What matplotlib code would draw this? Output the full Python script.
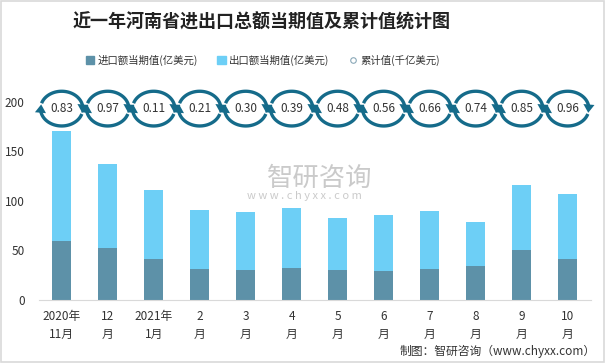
import numpy as np
import matplotlib.pyplot as plt
from matplotlib.patches import Rectangle
from matplotlib.lines import Line2D

plt.rcParams['font.family'] = ['Noto Sans CJK SC', 'DejaVu Sans']

# data
months = ['2020年\n11月', '12\n月', '2021年\n1月', '2\n月', '3\n月', '4\n月',
          '5\n月', '6\n月', '7\n月', '8\n月', '9\n月', '10\n月']
import_vals = [60, 52, 41.5, 31.5, 30.5, 32.5, 30.5, 29.5, 31.5, 34.5, 50.5, 41.5]
total_vals = [170, 137, 111, 91, 89, 93, 83, 86, 90, 79, 116, 107]
export_vals = [t - i for t, i in zip(total_vals, import_vals)]
cum_vals = ['0.83', '0.97', '0.11', '0.21', '0.30', '0.39', '0.48', '0.56', '0.66', '0.74', '0.85', '0.96']

dark = '#5d91a8'
light = '#6dcff6'
arrow_col = '#156b8a'

fig = plt.figure(figsize=(6.06, 3.63), dpi=100)
ax = fig.add_axes([38.7 / 606, 63 / 363, 552 / 606, 237 / 363])

x = np.arange(len(months))
ax.bar(x, import_vals, width=0.41, color=dark, zorder=2)
ax.bar(x, export_vals, width=0.41, bottom=import_vals, color=light, zorder=2)

ax.set_xlim(-0.5, len(months) - 0.5)
ax.set_ylim(0, 239)
ax.set_yticks([0, 50, 100, 150, 200])
ax.set_xticks(x)
ax.set_xticklabels(months, fontsize=8.5, color='#333333', linespacing=1.5)
ax.tick_params(axis='both', length=0, labelsize=8.5, colors='#333333')
ax.tick_params(axis='y', pad=10)
ax.tick_params(axis='x', pad=7)
for s in ['top', 'right', 'left']:
    ax.spines[s].set_visible(False)
ax.spines['bottom'].set_color('#d9d9d9')

# circular arrow icons with cumulative values
icon_y = 193
rx, ry = 0.46, 17.5


def ell(i, deg):
    t = np.radians(deg)
    return i + rx * np.cos(t), icon_y + ry * np.sin(t)


head = dict(arrowstyle='-|>,head_length=0.6,head_width=0.4', lw=0, color=arrow_col,
            shrinkA=0, shrinkB=0, mutation_scale=10)
for i, v in enumerate(cum_vals):
    for a0, a1, tip in [(162, 4, -14), (342, 184, 166)]:
        t = np.linspace(a0, a1, 40)
        px, py = ell(i, t)
        ax.plot(px, py, color=arrow_col, lw=2.4, solid_capstyle='butt', clip_on=False, zorder=3)
        ax.annotate('', xy=ell(i, tip), xytext=ell(i, a1 + (2 if a1 < a0 else -2)),
                    arrowprops=head, annotation_clip=False, zorder=3)
    ax.text(i, icon_y, v, ha='center', va='center', fontsize=8.5, color='#333333', zorder=4)

# legend
handles = [Rectangle((0, 0), 1, 1, color=dark),
           Rectangle((0, 0), 1, 1, color=light),
           Line2D([], [], marker='o', ls='', markersize=4, markerfacecolor='white',
                  markeredgecolor='#8aa8b8', markeredgewidth=0.8)]
fig.legend(handles, ['进口额当期值(亿美元)', '出口额当期值(亿美元)', '累计值(千亿美元)'],
           loc='center', bbox_to_anchor=(263 / 606, 1 - 60 / 363), ncol=3, frameon=False,
           fontsize=7.5, handlelength=0.8, handleheight=0.8, columnspacing=1.9,
           handletextpad=0.3, labelcolor='#333333')

fig.text(262 / 606, 1 - 22 / 363, '近一年河南省进出口总额当期值及累计值统计图', ha='center', va='center',
         fontsize=13, fontweight='bold', color='#222222')

# watermark
fig.text(320 / 606, 1 - 178 / 363, '智研咨询', ha='center', va='center', fontsize=19,
         color='#a8a8a8', alpha=0.6)
fig.text(304 / 606, 1 - 196 / 363, 'w w w . c h y x x . c o m', ha='center', va='center', fontsize=8,
         color='#a8a8a8', alpha=0.6)

fig.text(596 / 606, 1 - 351 / 363, '制图：智研咨询（www.chyxx.com）', ha='right', va='center',
         fontsize=8.5, color='#333333')

fig.patches.append(Rectangle((0.002, 0.003), 0.995, 0.994, transform=fig.transFigure,
                             fill=False, edgecolor='#d9d9d9', lw=1.2))

fig.savefig('out.png', dpi=100)
